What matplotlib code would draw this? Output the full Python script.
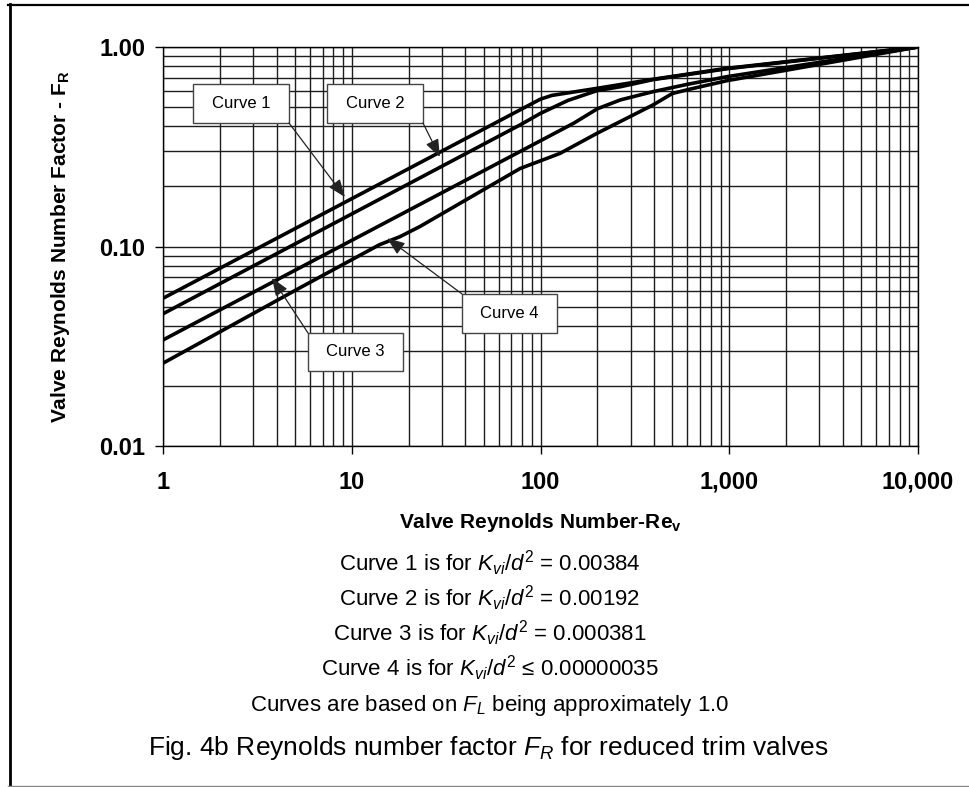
import matplotlib
matplotlib.use("Agg")
import matplotlib.pyplot as plt
from matplotlib.patches import Rectangle
from matplotlib.lines import Line2D
from matplotlib.ticker import FixedLocator, FixedFormatter, NullFormatter, LogLocator

plt.rcParams['font.family'] = ['Liberation Sans', 'DejaVu Sans']
plt.rcParams['mathtext.fontset'] = 'custom'
plt.rcParams['mathtext.rm'] = 'Liberation Sans'
plt.rcParams['mathtext.it'] = 'Liberation Sans:italic'
plt.rcParams['mathtext.bf'] = 'Liberation Sans:bold'

# curves (Re_v, F_R)
re_1 = [1, 90, 100, 115, 200, 394, 973, 10000]
fr_1 = [0.055, 0.52, 0.548, 0.572, 0.621, 0.689, 0.782, 1.0]
re_2 = [1, 78, 100, 140, 200, 265, 394, 973, 10000]
fr_2 = [0.046, 0.407, 0.465, 0.54, 0.605, 0.632, 0.686, 0.778, 1.0]
re_3 = [1, 150, 200, 265, 394, 600, 973, 10000]
fr_3 = [0.034, 0.415, 0.49, 0.543, 0.597, 0.65, 0.71, 1.0]
re_4 = [1, 5.3, 14, 18, 23, 78, 127, 199, 394, 500, 620, 973, 10000]
fr_4 = [0.026, 0.062, 0.102, 0.112, 0.126, 0.246, 0.293, 0.369, 0.512, 0.585, 0.615, 0.678, 1.0]
curves = [(re_1, fr_1), (re_2, fr_2), (re_3, fr_3), (re_4, fr_4)]

x_ticks = [1, 10, 100, 1000, 10000]
x_tick_labels = ['1', '10', '100', '1,000', '10,000']
y_ticks = [0.01, 0.1, 1.0]
y_tick_labels = ['0.01', '0.10', '1.00']

# callout labels: text, box (x0, x1, y0, y1), arrow start, arrow tip
callout_names = ['Curve 1', 'Curve 2', 'Curve 3', 'Curve 4']
callout_boxes = [(1.44, 4.65, 0.416, 0.652), (7.39, 23.85, 0.416, 0.652),
                 (5.87, 18.7, 0.0238, 0.0368), (38.4, 122.3, 0.0368, 0.0578)]
arrow_start = [(4.65, 0.416), (23.85, 0.416), (5.87, 0.0368), (38.4, 0.0578)]
arrow_tip = [(9.2, 0.177), (29.3, 0.281), (3.78, 0.0695), (15.4, 0.110)]

notes = [r'Curve 1 is for $K_{vi}/d^{2}$ = 0.00384',
         r'Curve 2 is for $K_{vi}/d^{2}$ = 0.00192',
         r'Curve 3 is for $K_{vi}/d^{2}$ = 0.000381',
         r'Curve 4 is for $K_{vi}/d^{2}$ ≤ 0.00000035',
         r'Curves are based on $F_L$ being approximately 1.0']
caption = r'Fig. 4b Reynolds number factor $F_R$ for reduced trim valves'

W, H = 969, 787
fig = plt.figure(figsize=(W / 100, H / 100), dpi=100)
ax = fig.add_axes([163 / W, 1 - 446 / H, 755 / W, 399 / H])
ax.set_xscale('log')
ax.set_yscale('log')
ax.set_xlim(1, 10000)
ax.set_ylim(0.01, 1.0)

ax.xaxis.set_minor_locator(LogLocator(base=10, subs=range(2, 10)))
ax.yaxis.set_minor_locator(LogLocator(base=10, subs=range(2, 10)))
ax.xaxis.set_minor_formatter(NullFormatter())
ax.yaxis.set_minor_formatter(NullFormatter())
ax.xaxis.set_major_locator(FixedLocator(x_ticks))
ax.xaxis.set_major_formatter(FixedFormatter(x_tick_labels))
ax.yaxis.set_major_locator(FixedLocator(y_ticks))
ax.yaxis.set_major_formatter(FixedFormatter(y_tick_labels))

ax.grid(True, which='both', color='#1e1e1e', lw=1.0)
ax.set_axisbelow(True)
ax.tick_params(which='minor', length=0)
ax.tick_params(which='major', length=5.8, width=1.0, direction='out', color='black')
ax.tick_params(axis='x', which='major', pad=12, labelsize=17)
ax.tick_params(axis='y', which='major', pad=7, labelsize=17)
for lab in ax.get_xticklabels() + ax.get_yticklabels():
    lab.set_fontweight('bold')
for sp in ax.spines.values():
    sp.set_color('black')
    sp.set_linewidth(1.0)

for re, fr in curves:
    ax.plot(re, fr, color='black', lw=2.6, solid_joinstyle='round', zorder=3)

for name, (x0, x1, y0, y1), st, tip in zip(callout_names, callout_boxes, arrow_start, arrow_tip):
    ax.add_patch(Rectangle((x0, y0), x1 - x0, y1 - y0, facecolor='white',
                           edgecolor='#444444', lw=1.0, zorder=5))
    ax.text((x0 * x1) ** 0.5, (y0 * y1) ** 0.5, name, ha='center', va='center',
            fontsize=12, zorder=6)
    ax.annotate('', xy=tip, xytext=st, zorder=7,
                arrowprops=dict(arrowstyle='-|>,head_length=0.9,head_width=0.35',
                                color='#222222', lw=0.9, mutation_scale=12,
                                shrinkA=0, shrinkB=0))

ax.set_xlabel(r'Valve Reynolds Number-Re$_{\mathbf{v}}$', fontsize=15, fontweight='bold')
ax.xaxis.set_label_coords(0.5, -0.162)
ax.set_ylabel(r'Valve Reynolds Number Factor - F$_{\mathbf{R}}$', fontsize=15, fontweight='bold')
ax.yaxis.set_label_coords(-0.1205, 0.5)

for i, line in enumerate(notes):
    fig.text(490 / W, 1 - (571 + 35 * i) / H, line, ha='center', va='baseline', fontsize=16)
fig.text(488 / W, 1 - 755 / H, caption, ha='center', va='baseline', fontsize=19)

# page frame
fig.add_artist(Line2D([9.5 / W, 9.5 / W], [0, 1 - 4 / H], color='black', lw=2.0))
fig.add_artist(Line2D([8 / W, 1], [1 - 5 / H, 1 - 5 / H], color='black', lw=1.6))
fig.add_artist(Line2D([8 / W, 1], [1 - 786 / H, 1 - 786 / H], color='#888888', lw=1.0))

fig.savefig('out.png', dpi=100)
